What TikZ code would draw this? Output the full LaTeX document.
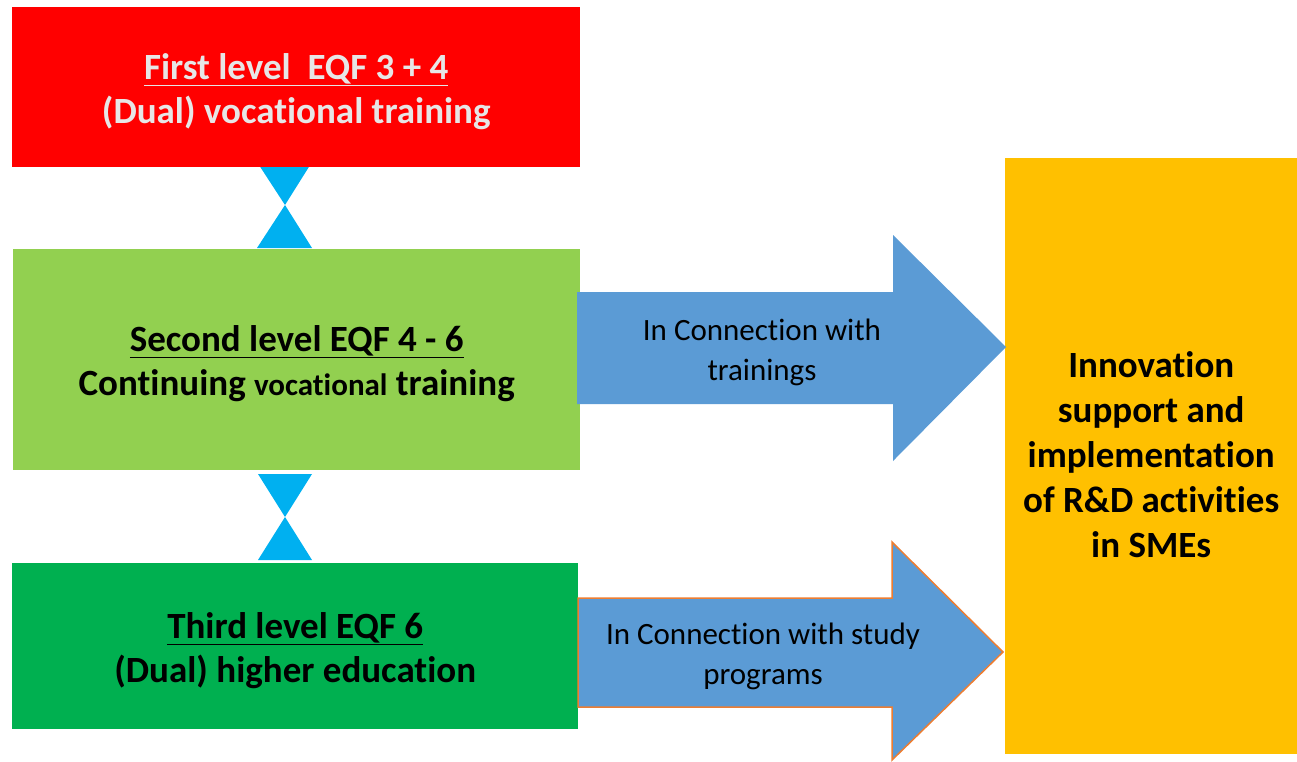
\documentclass[tikz,border=0pt]{standalone}
\usepackage{fontspec}
\setmainfont{Carlito}[Ligatures=NoCommon]
\definecolor{boxred}{HTML}{FF0000}
\definecolor{lgreen}{HTML}{92D050}
\definecolor{dgreen}{HTML}{00B050}
\definecolor{gold}{HTML}{FFC000}
\definecolor{arrblue}{HTML}{5B9BD5}
\definecolor{hgblue}{HTML}{00B0F0}
\definecolor{orng}{HTML}{ED7D31}
\definecolor{lgray}{HTML}{E7E6E6}
\tikzset{
  levelbox/.style={rectangle, inner sep=0pt, anchor=north west},
  boxtext/.style={align=center, inner sep=0pt, font=\bfseries\fontsize{37}{44}\selectfont},
  hglass/.style={fill=hgblue},
  bigarrow/.style={fill=arrblue},
  arrtext/.style={align=center, font=\fontsize{31}{40}\selectfont},
}
\begin{document}
\begin{tikzpicture}[x=1pt,y=-1pt]
\useasboundingbox (0,0) rectangle (1297,761);
% hourglasses
\fill[hglass] (257,162) -- (312,162) -- (285,205) -- cycle;
\fill[hglass] (257,248) -- (312,248) -- (285,205) -- cycle;
\fill[hglass] (258,474) -- (312,474) -- (285,517) -- cycle;
\fill[hglass] (258,560) -- (312,560) -- (285,517) -- cycle;
% boxes
\node[levelbox, fill=boxred, minimum width=568pt, minimum height=160pt] (first) at (12,7) {};
\node[levelbox, fill=lgreen, minimum width=567pt, minimum height=221pt] (second) at (13,249) {};
\node[levelbox, fill=dgreen, minimum width=566pt, minimum height=166pt] (third) at (12,563) {};
\node[levelbox, fill=gold, minimum width=292pt, minimum height=596pt] (goal) at (1005,158) {};
\node[boxtext, text=lgray, yshift=-4pt] (firsttext) at (first.center)
  {\underline{First level\ \ EQF 3 + 4}\\(Dual) vocational training};
\node[boxtext, yshift=-4pt] (secondtext) at (second.center)
  {\underline{Second level EQF 4 - 6}\\Continuing {\fontsize{31}{44}\selectfont vocational} training};
\node[boxtext, yshift=-4pt] (thirdtext) at (third.center)
  {\underline{Third level EQF 6}\\(Dual) higher education};
\node[boxtext, font=\bfseries\fontsize{37}{45}\selectfont, yshift=2pt] (goaltext) at (goal.center)
  {Innovation\\support and\\implementation\\of R\&D activities\\in SMEs};
% arrows
\fill[bigarrow] (577,292) -- (893,292) -- (893,235) -- (1006,347) -- (893,461) -- (893,404) -- (577,404) -- cycle;
\filldraw[bigarrow, draw=orng, line width=1.5pt] (578,598) -- (892,598) -- (892,542) -- (1003,652) -- (892,760) -- (892,707) -- (578,707) -- cycle;
\node[arrtext] (a1) at (762,352) {In Connection with\\trainings};
\node[arrtext] (a2) at (763,656) {In Connection with study\\programs};
\end{tikzpicture}
\end{document}
